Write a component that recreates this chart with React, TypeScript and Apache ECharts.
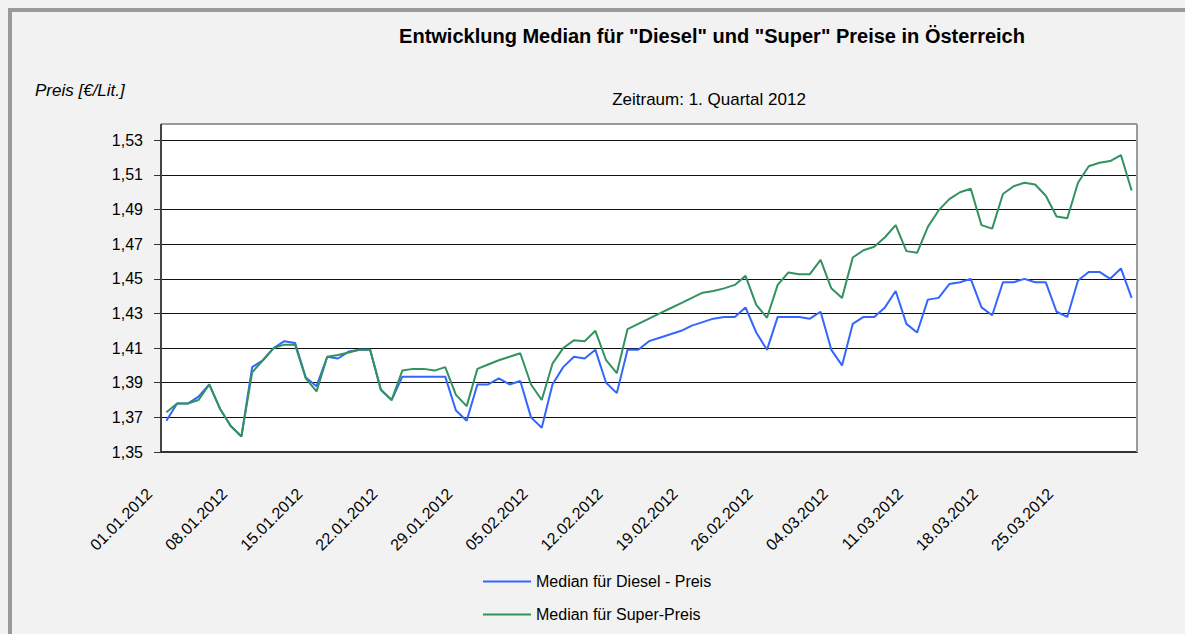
import React, { useEffect, useRef } from "react";
import * as echarts from "echarts";

// ---- data ----
const monthDays: [string, number][] = [["01", 31], ["02", 29], ["03", 31]];
const dates: string[] = [];
monthDays.forEach(([m, n]) => {
  for (let d = 1; d <= n; d++) dates.push(`${String(d).padStart(2, "0")}.${m}.2012`);
});

const diesel: number[] = [
  1.368, 1.378, 1.378, 1.382, 1.389, 1.375, 1.365, 1.359, 1.399, 1.403,
  1.410, 1.414, 1.413, 1.393, 1.388, 1.405, 1.404, 1.408, 1.409, 1.409,
  1.386, 1.380, 1.3935, 1.3935, 1.3935, 1.3935, 1.3935, 1.374, 1.368, 1.389,
  1.389, 1.3925, 1.389, 1.391, 1.370, 1.364, 1.389, 1.399, 1.405, 1.404,
  1.409, 1.390, 1.384, 1.409, 1.409, 1.414, 1.416, 1.418, 1.420, 1.423,
  1.425, 1.427, 1.428, 1.428, 1.4335, 1.419, 1.409, 1.428, 1.428, 1.428,
  1.427, 1.431, 1.409, 1.400, 1.424, 1.428, 1.428, 1.4335, 1.443, 1.424,
  1.419, 1.438, 1.439, 1.447, 1.448, 1.450, 1.4335, 1.429, 1.448, 1.448,
  1.450, 1.448, 1.448, 1.431, 1.428, 1.449, 1.454, 1.454, 1.450, 1.456,
  1.439,
];

const superPrices: number[] = [
  1.373, 1.378, 1.378, 1.380, 1.389, 1.375, 1.365, 1.359, 1.396, 1.403,
  1.410, 1.412, 1.412, 1.3925, 1.385, 1.405, 1.406, 1.4075, 1.409, 1.409,
  1.386, 1.380, 1.397, 1.398, 1.398, 1.397, 1.399, 1.383, 1.3765, 1.398,
  1.4005, 1.403, 1.405, 1.407, 1.389, 1.380, 1.401, 1.410, 1.4145, 1.414,
  1.420, 1.403, 1.3955, 1.421, 1.424, 1.427, 1.430, 1.433, 1.436, 1.439,
  1.442, 1.443, 1.4445, 1.4465, 1.4517, 1.435, 1.4275, 1.4465, 1.4537, 1.4527,
  1.4527, 1.461, 1.4445, 1.439, 1.4623, 1.4665, 1.4685, 1.474, 1.481, 1.466,
  1.465, 1.480, 1.4895, 1.496, 1.500, 1.502, 1.481, 1.479, 1.499, 1.5035,
  1.5055, 1.5045, 1.498, 1.486, 1.485, 1.5055, 1.515, 1.517, 1.518, 1.5215,
  1.501,
];

const seriesNames = ["Median für Diesel - Preis", "Median für Super-Preis"];
const titleText = 'Entwicklung Median für "Diesel" und "Super" Preise in Österreich';
const subtitleText = "Zeitraum: 1. Quartal 2012";
const yAxisTitle = "Preis [€/Lit.]";
const yMin = 1.35;
const yMax = 1.53;
const yStep = 0.02;

const FONT = "'Liberation Sans', Arial, sans-serif";
const BLUE = "#3366ff";
const GREEN = "#33925f";

export default function App() {
  const ref = useRef<HTMLDivElement>(null);

  useEffect(() => {
    document.documentElement.style.overflow = "hidden";
    document.body.style.overflow = "hidden";
    if (!ref.current) return;
    const chart = echarts.init(ref.current, undefined, { renderer: "svg" });

    const gl = 149, gt = 128.3, gw = 976, gb = 440;

    chart.setOption({
      animation: false,
      textStyle: { fontFamily: FONT },
      grid: {
        left: gl,
        top: gt,
        width: gw,
        height: gb - gt,
        show: true,
        backgroundColor: "#ffffff",
        borderWidth: 0,
      },
      graphic: [
        { type: "rect", z: -10, shape: { x: gl, y: 112, width: gw, height: gb - 112 }, style: { fill: "#ffffff" } },
        { type: "line", z: 10, shape: { x1: gl, y1: 112, x2: gl + gw, y2: 112 }, style: { stroke: "#9a9a9a", lineWidth: 2 } },
        { type: "line", z: 10, shape: { x1: gl + gw, y1: 112, x2: gl + gw, y2: gb }, style: { stroke: "#9a9a9a", lineWidth: 2 } },
        { type: "line", z: 10, shape: { x1: gl, y1: 112, x2: gl, y2: gt }, style: { stroke: "#444", lineWidth: 2 } },
        {
          type: "text", x: 700, y: 24,
          style: { text: titleText, font: `bold 20px ${FONT}`, fill: "#000", textAlign: "center", textVerticalAlign: "middle" },
        },
        {
          type: "text", x: 697, y: 87,
          style: { text: subtitleText, font: `17px ${FONT}`, fill: "#000", textAlign: "center", textVerticalAlign: "middle" },
        },
        {
          type: "text", x: 23, y: 78,
          style: { text: yAxisTitle, font: `italic 17px ${FONT}`, fill: "#000", textAlign: "left", textVerticalAlign: "middle" },
        },
      ],
      legend: {
        orient: "vertical",
        left: 466,
        top: 556,
        itemWidth: 48,
        itemHeight: 2,
        itemGap: 16,
        icon: "rect",
        data: seriesNames.map((n) => ({ name: n, icon: "rect" })),
        textStyle: { fontSize: 16, color: "#000", fontFamily: FONT, lineHeight: 17 },
      },
      xAxis: {
        type: "category",
        data: dates,
        boundaryGap: true,
        axisLine: { lineStyle: { color: "#333", width: 2 } },
        axisTick: { interval: 6, length: 6, lineStyle: { color: "#333", width: 1 } },
        axisLabel: {
          interval: 6,
          rotate: 45,
          margin: 22,
          padding: [0, 24, 0, 0],
          fontSize: 16,
          color: "#000",
          fontFamily: FONT,
        },
        splitLine: { show: false },
      },
      yAxis: {
        type: "value",
        min: yMin,
        max: yMax,
        interval: yStep,
        axisLine: { show: true, lineStyle: { color: "#444", width: 2 } },
        axisTick: { show: true, length: 7, lineStyle: { color: "#333" } },
        axisLabel: {
          margin: 18,
          fontSize: 16,
          color: "#000",
          fontFamily: FONT,
          formatter: (v: number) => v.toFixed(2).replace(".", ","),
        },
        splitLine: { show: true, lineStyle: { color: "#111", width: 1 } },
      },
      series: [
        {
          name: seriesNames[0],
          type: "line",
          data: diesel,
          symbol: "none",
          lineStyle: { color: BLUE, width: 2 },
          itemStyle: { color: BLUE },
        },
        {
          name: seriesNames[1],
          type: "line",
          data: superPrices,
          symbol: "none",
          lineStyle: { color: GREEN, width: 2 },
          itemStyle: { color: GREEN },
        },
      ],
    });

    return () => chart.dispose();
  }, []);

  return (
    <div
      style={{
        position: "fixed",
        left: 0,
        top: 0,
        width: 1185,
        height: 634,
        overflow: "hidden",
        background: "#f2f2f2",
      }}
    >
      <div
        style={{
          position: "absolute",
          left: 8,
          top: 8,
          width: 1300,
          height: 700,
          boxSizing: "border-box",
          borderTop: "4px solid #9a9a9a",
          borderLeft: "4px solid #9a9a9a",
        }}
      >
        <div ref={ref} style={{ width: 1173, height: 622 }} />
      </div>
    </div>
  );
}
